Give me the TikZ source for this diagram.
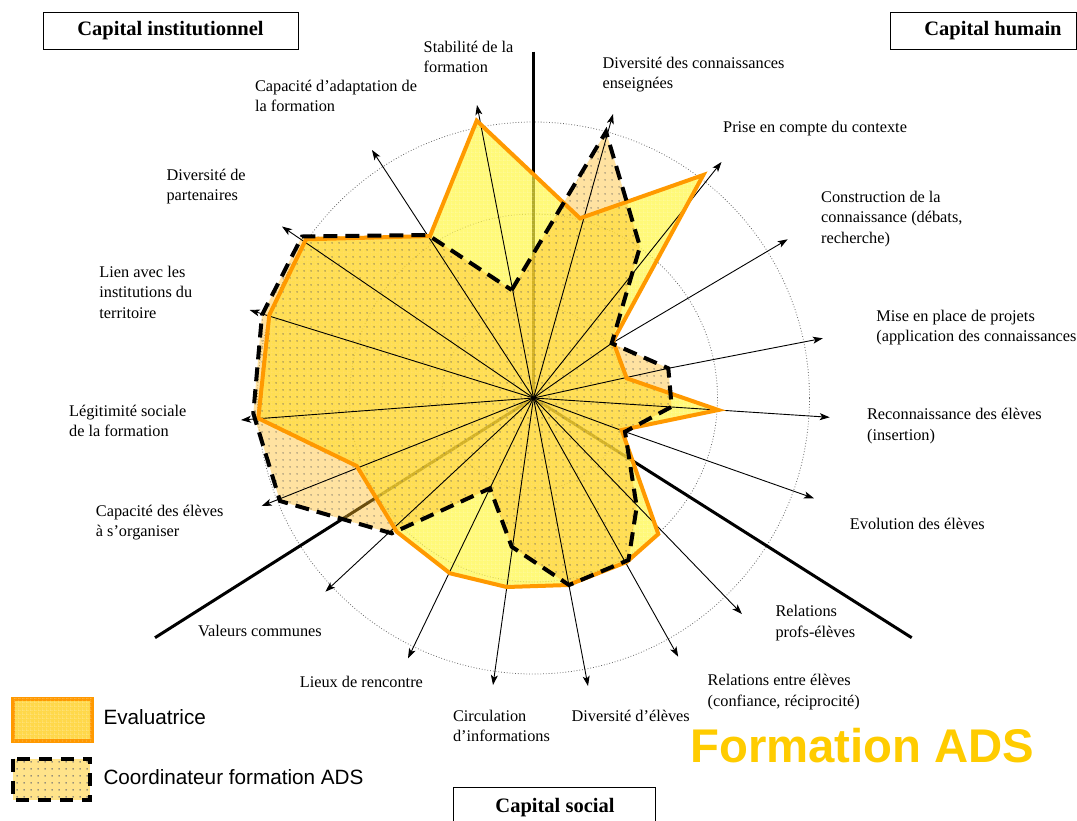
\documentclass[tikz,border=0pt]{standalone}
\usepackage{fontspec}
\setmainfont{Liberation Serif}
\newfontfamily\arialfont{Liberation Sans}
\usetikzlibrary{arrows.meta,patterns.meta}

\definecolor{orangeline}{HTML}{FF9900}
\definecolor{orfill}{HTML}{FFF640}
\definecolor{dsfill}{HTML}{FFBA20}
\definecolor{adsgold}{HTML}{FFCC00}
\definecolor{legor}{HTML}{FFD84A}
\definecolor{legds}{HTML}{FFE38A}

\tikzdeclarepattern{
  name=sparsedots,
  type=uncolored,
  bottom left={(0pt,0pt)},
  top right={(7pt,7pt)},
  tile size={(7pt,7pt)},
  code={\pgfpathcircle{\pgfqpoint{3.5pt}{3.5pt}}{0.9pt}\pgfusepath{fill}}
}
\tikzdeclarepattern{
  name=finegrid,
  type=uncolored,
  bottom left={(0pt,0pt)},
  top right={(3.5pt,3.5pt)},
  tile size={(3.5pt,3.5pt)},
  code={\pgfsetlinewidth{0.5pt}\pgfpathmoveto{\pgfqpoint{0pt}{0.25pt}}\pgfpathlineto{\pgfqpoint{3.5pt}{0.25pt}}\pgfpathmoveto{\pgfqpoint{0.25pt}{0pt}}\pgfpathlineto{\pgfqpoint{0.25pt}{3.5pt}}\pgfusepath{stroke}}
}

\tikzset{
  lbl/.style={anchor=west, align=left, inner sep=0pt, font=\fontsize{16.3}{20.3}\selectfont},
  capbox/.style={draw, line width=1pt, inner sep=0pt},
  captext/.style={inner sep=0pt, font=\bfseries\fontsize{20.5}{24}\selectfont},
  ring/.style={black!60, dotted, line width=0.8pt},
  arr/.style={black, line width=0.9pt, -{Stealth[length=10pt,width=7pt,inset=2.5pt]}},
  sector/.style={black, line width=3pt},
  orpoly/.style={fill=orfill, fill opacity=0.7},
  dspoly/.style={fill=dsfill, fill opacity=0.42},
  orline/.style={draw=orangeline, line width=4pt, line join=miter},
  dsline/.style={draw=black, line width=4pt, dash pattern=on 14pt off 8pt, line join=miter},
  legtext/.style={anchor=west, inner sep=0pt, font=\arialfont\fontsize{20.7}{24}\selectfont},
}

\begin{document}
\begin{tikzpicture}[x=1pt,y=-1pt]
\useasboundingbox (0,0) rectangle (1077,820);

% centre and arrow tips
\coordinate (O) at (533.5,398);
\coordinate (tStab) at (477,105);
\coordinate (tDivC) at (613,114);
\coordinate (tPrise) at (721.5,162);
\coordinate (tConstr) at (787.7,239.3);
\coordinate (tMise) at (822.8,338.3);
\coordinate (tRecon) at (829.7,417.3);
\coordinate (tEvol) at (814,498.3);
\coordinate (tRelP) at (741.9,614);
\coordinate (tRelE) at (678.2,656.7);
\coordinate (tDivE) at (588,686);
\coordinate (tCirc) at (493,685);
\coordinate (tLieux) at (408,658.3);
\coordinate (tVal) at (325.4,591.7);
\coordinate (tCapE) at (261.7,506);
\coordinate (tLeg) at (241,420);
\coordinate (tLien) at (249.7,310);
\coordinate (tDivP) at (282,226.5);
\coordinate (tCapA) at (372,150);
% dashed vertices where arrows start
\coordinate (vConstr) at (611.7,343.3);
\coordinate (vMise) at (668.3,368.3);
\coordinate (vEvol) at (625,431.7);
% ends of the three sector lines
\coordinate (kTop) at (533.5,51.7);
\coordinate (kLeft) at (155,637.7);
\coordinate (kRight) at (911.7,637.7);

% rings
\foreach \r in {92,184,276} \draw[ring] (O) circle[radius=\r pt];

% sector lines
\draw[sector] (kTop) -- (O);
\draw[sector] (kLeft) -- (O);
\draw[sector] (kRight) -- (O);

% Evaluatrice fill
\path[orpoly, postaction={pattern=finegrid, pattern color=white, fill opacity=0.35}]
 (476.7,120.7) -- (580,218.3) -- (703.3,175) -- (613,341) -- (626.7,378.3) -- (718.3,410)
 -- (621.7,430) -- (658.3,534) -- (626.7,562) -- (568.3,585) -- (506.7,587) -- (450,573.3)
 -- (396.7,531.7) -- (356.7,466) -- (258.3,418.3) -- (269.3,315) -- (306,239.3) -- (430,236) -- cycle;

% Coordinateur fill
\path[dspoly, postaction={pattern=sparsedots, pattern color=black!65, fill opacity=0.7}]
 (511.7,290) -- (606,131.7) -- (640,246.7) -- (611.7,343.3) -- (668.3,368.3) -- (671.7,406.7)
 -- (625,431.7) -- (636.7,506.7) -- (628.5,560) -- (569,585) -- (511.7,546.7) -- (490,488.3)
 -- (391.7,533.3) -- (280,501) -- (253.3,413.3) -- (262,315) -- (302,236.5) -- (428,235) -- cycle;

% arrows
\draw[arr] (O) -- (tStab);
\draw[arr] (O) -- (tDivC);
\draw[arr] (O) -- (tPrise);
\draw[arr] (O) -- (vConstr) -- (tConstr);
\draw[arr] (O) -- (vMise) -- (tMise);
\draw[arr] (O) -- (tRecon);
\draw[arr] (O) -- (vEvol) -- (tEvol);
\draw[arr] (O) -- (tRelP);
\draw[arr] (O) -- (tRelE);
\draw[arr] (O) -- (tDivE);
\draw[arr] (O) -- (tCirc);
\draw[arr] (O) -- (tLieux);
\draw[arr] (O) -- (tVal);
\draw[arr] (O) -- (tCapE);
\draw[arr] (O) -- (tLeg);
\draw[arr] (O) -- (tLien);
\draw[arr] (O) -- (tDivP);
\draw[arr] (O) -- (tCapA);

% outlines
\draw[orline]
 (476.7,120.7) -- (580,218.3) -- (703.3,175) -- (613,341) -- (626.7,378.3) -- (718.3,410)
 -- (621.7,430) -- (658.3,534) -- (626.7,562) -- (568.3,585) -- (506.7,587) -- (450,573.3)
 -- (396.7,531.7) -- (356.7,466) -- (258.3,418.3) -- (269.3,315) -- (306,239.3) -- (430,236) -- cycle;
\draw[dsline]
 (511.7,290) -- (606,131.7) -- (640,246.7) -- (611.7,343.3) -- (668.3,368.3) -- (671.7,406.7)
 -- (625,431.7) -- (636.7,506.7) -- (628.5,560) -- (569,585) -- (511.7,546.7) -- (490,488.3)
 -- (391.7,533.3) -- (280,501) -- (253.3,413.3) -- (262,315) -- (302,236.5) -- (428,235) -- cycle;

% capital boxes
\node[capbox, minimum width=255pt, minimum height=36.7pt] (bInst) at (170.5,30.7) {};
\node[captext] (cInst) at (170.5,31) {Capital institutionnel};
\node[capbox, minimum width=186pt, minimum height=36.7pt] (bHum) at (983.7,30.7) {};
\node[captext] (cHum) at (993,31) {Capital humain};
\node[capbox, minimum width=202pt, minimum height=50pt] (bSoc) at (554.9,812.7) {};
\node[captext] (cSoc) at (555,807.5) {Capital social};

% axis labels
\node[lbl] (lStab) at (423.5,56.7) {Stabilité de la\\formation};
\node[lbl] (lDivC) at (602.4,74.5) {Diversité des connaissances\\enseignées};
\node[lbl] (lPrise) at (723,128.3) {Prise en compte du contexte};
\node[lbl] (lConstr) at (821,219) {Construction de la\\connaissance (débats,\\recherche)};
\node[lbl] (lMise) at (876.2,327.5) {Mise en place de projets\\(application des connaissances};
\node[lbl] (lRecon) at (866.9,426) {Reconnaissance des élèves\\(insertion)};
\node[lbl] (lEvol) at (849.7,524) {Evolution des élèves};
\node[lbl] (lRelP) at (775.3,623) {Relations\\profs-élèves};
\node[lbl] (lRelE) at (707.5,692) {Relations entre élèves\\(confiance, réciprocité)};
\node[lbl] (lDivE) at (571.4,716) {Diversité d’élèves};
\node[lbl] (lCirc) at (452.8,726) {Circulation\\d’informations};
\node[lbl] (lLieux) at (299.6,681.7) {Lieux de rencontre};
\node[lbl] (lVal) at (198,630.7) {Valeurs communes};
\node[lbl] (lCapE) at (95.7,522.7) {Capacité des élèves\\à s’organiser};
\node[lbl] (lLeg) at (68.9,421) {Légitimité sociale\\de la formation};
\node[lbl] (lLien) at (99.2,292.4) {Lien avec les\\institutions du\\territoire};
\node[lbl] (lDivP) at (166.3,186.3) {Diversité de\\partenaires};
\node[lbl] (lCapA) at (254.8,96) {Capacité d’adaptation de\\la formation};

% legend
\draw[draw=orangeline, line width=4pt, fill=legor, postaction={pattern=finegrid, pattern color=white, fill opacity=0.4}] (13,698.7) rectangle (91.7,741.3);
\node[legtext] (legA) at (103.3,717.3) {Evaluatrice};
\draw[draw=black, line width=4pt, dash pattern=on 13pt off 9pt, fill=legds, postaction={pattern=sparsedots, pattern color=black!55}] (13,758.7) rectangle (90.3,799.7);
\node[legtext] (legB) at (103.3,776.7) {Coordinateur formation ADS};

% title
\node[anchor=base west, inner sep=0pt, text=adsgold, font=\arialfont\bfseries\fontsize{47.3}{50}\selectfont] (title) at (690,762) {Formation ADS};
\end{tikzpicture}
\end{document}
